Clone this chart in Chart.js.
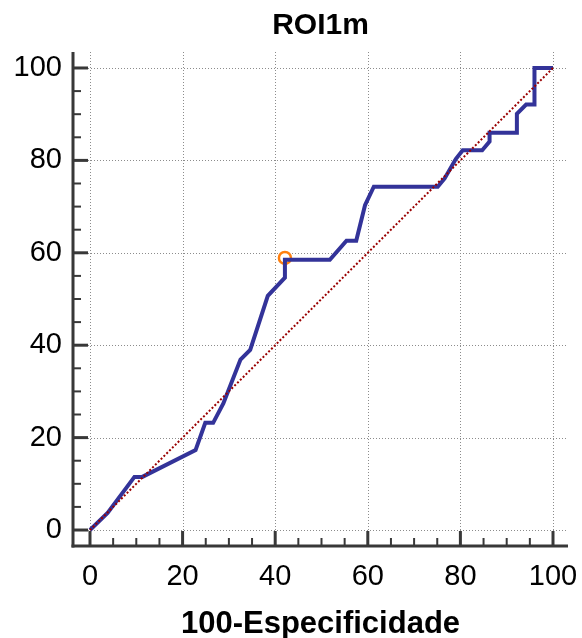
<!DOCTYPE html>
<html>
<head>
<meta charset="utf-8">
<script src="https://cdn.jsdelivr.net/npm/chart.js@4.4.1/dist/chart.umd.min.js"></script>
<style>
  html, body { margin: 0; padding: 0; background: #fff; }
  #wrap { width: 582px; height: 638px; }
</style>
</head>
<body>
<div id="wrap"><canvas id="roc"></canvas></div>
<script>
// ROC curve points (100-specificity, sensitivity)
const fpr  = [0, 3.8, 9.6, 11.3, 22.8, 24.9, 26.6, 28.8, 32.5, 34.6, 38.4, 42.1, 42.1, 51.8, 55.4, 57.5, 59.4, 61.3, 75.1, 76.6, 79.0, 80.5, 84.7, 86.3, 86.3, 92.2, 92.2, 94.2, 96.0, 96.0, 100];
const sens = [0, 3.7, 11.5, 11.5, 17.3, 23.2, 23.2, 27.4, 36.9, 39.0, 50.7, 54.6, 58.5, 58.5, 62.6, 62.6, 70.3, 74.3, 74.3, 76.1, 80.3, 82.2, 82.2, 84.1, 86.0, 86.0, 90.1, 92.1, 92.1, 100, 100];
const diagX = [0, 100];
const diagY = [0, 100];
const cutX = [42.1];
const cutY = [58.9];
const xTicks = [0, 20, 40, 60, 80, 100];
const yTicks = [0, 20, 40, 60, 80, 100];
const minorTicks = [5, 10, 15, 25, 30, 35, 45, 50, 55, 65, 70, 75, 85, 90, 95];

const FONT = '"Liberation Sans", Arial, sans-serif';
const toPts = (xs, ys) => xs.map((v, i) => ({ x: v, y: ys[i] }));

// medcalc-style axes: dotted grid, thick axis lines, inward ticks
const axesPlugin = {
  id: 'axes',
  beforeDatasetsDraw(chart) {
    const { ctx, chartArea: a, scales: { x, y } } = chart;
    const seg = (x1, y1, x2, y2) => { ctx.beginPath(); ctx.moveTo(x1, y1); ctx.lineTo(x2, y2); ctx.stroke(); };
    ctx.save();
    ctx.strokeStyle = '#8c8c8c';
    ctx.lineWidth = 1;
    ctx.setLineDash([1, 2]);
    xTicks.forEach(v => { const p = Math.round(x.getPixelForValue(v)) + 0.5; seg(p, a.top, p, a.bottom); });
    yTicks.forEach(v => { const p = Math.round(y.getPixelForValue(v)) + 0.5; seg(a.left, p, a.right, p); });
    ctx.setLineDash([]);
    ctx.strokeStyle = '#383838';
    // minor ticks
    ctx.lineWidth = 2;
    minorTicks.forEach(v => {
      const px = x.getPixelForValue(v), py = y.getPixelForValue(v);
      seg(px, a.bottom, px, a.bottom - 8);
      seg(a.left, py, a.left + 8, py);
    });
    // major ticks
    ctx.lineWidth = 3;
    xTicks.forEach(v => { const p = x.getPixelForValue(v); seg(p, a.bottom, p, a.bottom - 15); });
    yTicks.forEach(v => { const p = y.getPixelForValue(v); seg(a.left, p, a.left + 15, p); });
    // axis lines
    seg(a.left, a.top, a.left, a.bottom + 1.5);
    seg(a.left - 1.5, a.bottom, a.right, a.bottom);
    ctx.restore();
  }
};

const fixTicks = list => scale => { scale.ticks = list.map(v => ({ value: v })); };

new Chart(document.getElementById('roc'), {
  type: 'scatter',
  data: {
    datasets: [
      {
        data: toPts(diagX, diagY),
        showLine: true,
        borderColor: '#9a0000',
        borderWidth: 2,
        borderDash: [2, 2],
        pointRadius: 0
      },
      {
        data: toPts(fpr, sens),
        showLine: true,
        borderColor: '#333399',
        borderWidth: 4,
        pointRadius: 0
      },
      {
        data: toPts(cutX, cutY),
        pointRadius: 6,
        pointBorderWidth: 2.5,
        pointBorderColor: '#ff7f0e',
        pointBackgroundColor: '#ffffff'
      }
    ]
  },
  options: {
    responsive: true,
    maintainAspectRatio: false,
    animation: false,
    layout: { padding: { left: 0, right: 14, top: 0, bottom: 0 } },
    plugins: {
      legend: { display: false },
      tooltip: { enabled: false },
      title: {
        display: true,
        text: 'ROI1m',
        fullSize: false,
        color: '#000',
        font: { family: FONT, size: 30, weight: 'bold' },
        padding: { top: 8, bottom: 8 }
      }
    },
    scales: {
      x: {
        type: 'linear',
        min: -3.67,
        max: 103.24,
        afterBuildTicks: fixTicks(xTicks),
        afterFit: s => { s.height = 92; s.paddingLeft = 0; s.paddingRight = 0; },
        grid: { display: false, drawTicks: false },
        border: { display: false },
        ticks: {
          color: '#000',
          padding: 14,
          maxRotation: 0,
          autoSkip: false,
          font: { family: FONT, size: 29 }
        },
        title: {
          display: true,
          text: '100-Especificidade',
          color: '#000',
          font: { family: FONT, size: 31, weight: 'bold', lineHeight: 0.9 },
          padding: { top: 0, bottom: 0 }
        }
      },
      y: {
        type: 'linear',
        min: -3.46,
        max: 103.46,
        afterBuildTicks: fixTicks(yTicks),
        afterFit: s => { s.width = 73; s.paddingTop = 0; s.paddingBottom = 0; },
        grid: { display: false, drawTicks: false },
        border: { display: false },
        ticks: {
          color: '#000',
          padding: 11,
          autoSkip: false,
          font: { family: FONT, size: 29 }
        }
      }
    }
  },
  plugins: [axesPlugin]
});
</script>
</body>
</html>
